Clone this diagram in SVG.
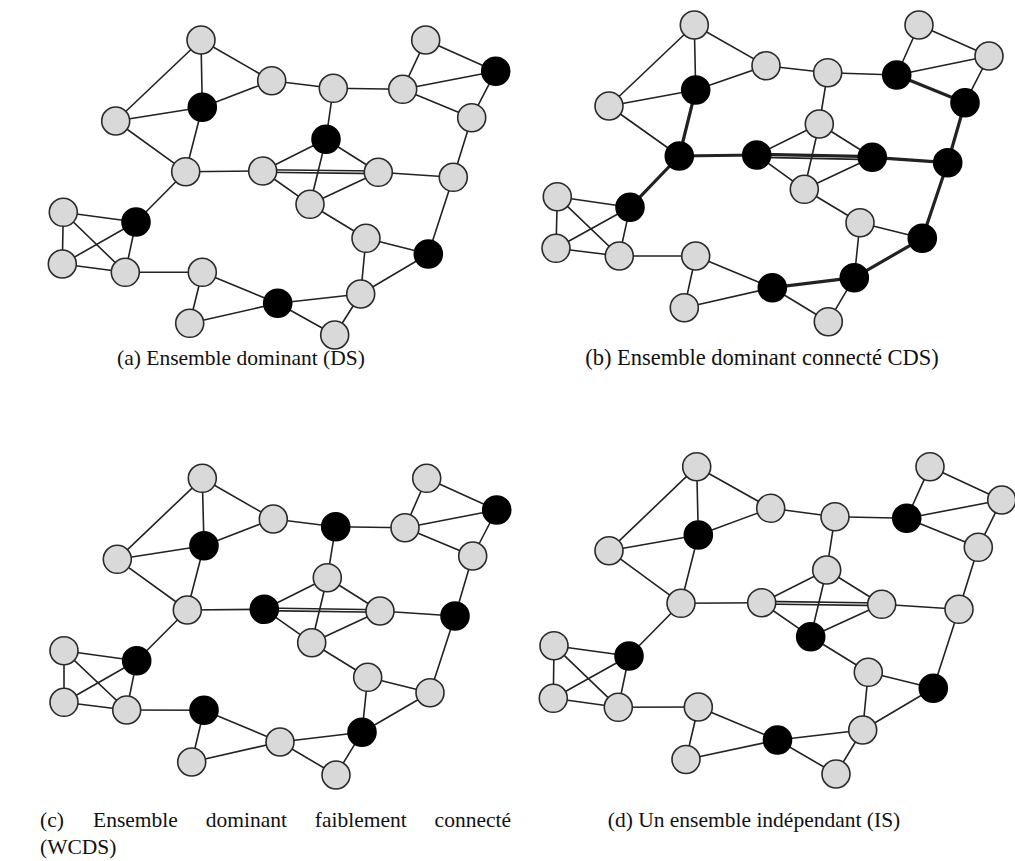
<svg xmlns="http://www.w3.org/2000/svg" width="1015" height="861" viewBox="0 0 1015 861">
<style>
.e line{stroke:#222;stroke-width:1.6;stroke-linecap:round}
.e line.t{stroke-width:3.2}
circle{stroke:#2a2a2a;stroke-width:1.6}
.g circle{fill:#d9d9d9}
.b circle{fill:#000;stroke:#000}
text{font-family:"Liberation Serif","Times New Roman",serif;font-size:21.5px;fill:#111}
</style>
<rect width="1015" height="861" fill="#fff"/>

<!-- Panel (a) -->
<g id="a-edges" class="e">
<line x1="201" y1="40" x2="271.7" y2="80.7"/>
<line x1="201" y1="40" x2="202.3" y2="107.3"/>
<line x1="201" y1="40" x2="115.7" y2="121"/>
<line x1="271.7" y1="80.7" x2="202.3" y2="107.3"/>
<line x1="202.3" y1="107.3" x2="115.7" y2="121"/>
<line x1="202.3" y1="107.3" x2="185.7" y2="171.7"/>
<line x1="115.7" y1="121" x2="185.7" y2="171.7"/>
<line x1="271.7" y1="80.7" x2="333.3" y2="88.3"/>
<line x1="333.3" y1="88.3" x2="326" y2="139.3"/>
<line x1="333.3" y1="88.3" x2="402.7" y2="89.3"/>
<line x1="185.7" y1="171.7" x2="262.7" y2="171"/>
<line x1="185.7" y1="171.7" x2="136" y2="222"/>
<line x1="326" y1="139.3" x2="262.7" y2="171"/>
<line x1="326" y1="139.3" x2="378.3" y2="172.3"/>
<line x1="326" y1="139.3" x2="310" y2="204.3"/>
<line x1="262.7" y1="169.7" x2="378.3" y2="171"/>
<line x1="262.7" y1="172.3" x2="378.3" y2="173.6"/>
<line x1="262.7" y1="171" x2="310" y2="204.3"/>
<line x1="378.3" y1="172.3" x2="310" y2="204.3"/>
<line x1="378.3" y1="172.3" x2="453.3" y2="177.3"/>
<line x1="425.7" y1="40" x2="402.7" y2="89.3"/>
<line x1="425.7" y1="40" x2="495.7" y2="71.3"/>
<line x1="495.7" y1="71.3" x2="402.7" y2="89.3"/>
<line x1="495.7" y1="71.3" x2="471.7" y2="117.7"/>
<line x1="402.7" y1="89.3" x2="471.7" y2="117.7"/>
<line x1="471.7" y1="117.7" x2="453.3" y2="177.3"/>
<line x1="453.3" y1="177.3" x2="428.3" y2="254"/>
<line x1="310" y1="204.3" x2="366" y2="238.3"/>
<line x1="428.3" y1="254" x2="366" y2="238.3"/>
<line x1="366" y1="238.3" x2="360.7" y2="294"/>
<line x1="428.3" y1="254" x2="360.7" y2="294"/>
<line x1="360.7" y1="294" x2="277.7" y2="303.3"/>
<line x1="360.7" y1="294" x2="334.7" y2="335"/>
<line x1="334.7" y1="335" x2="277.7" y2="303.3"/>
<line x1="277.7" y1="303.3" x2="202.3" y2="272.3"/>
<line x1="277.7" y1="303.3" x2="189.7" y2="323.3"/>
<line x1="202.3" y1="272.3" x2="189.7" y2="323.3"/>
<line x1="202.3" y1="272.3" x2="125.3" y2="272.3"/>
<line x1="125.3" y1="272.3" x2="136" y2="222"/>
<line x1="136" y1="222" x2="63.3" y2="212.3"/>
<line x1="136" y1="222" x2="62.3" y2="264"/>
<line x1="63.3" y1="212.3" x2="62.3" y2="264"/>
<line x1="125.3" y1="272.3" x2="63.3" y2="212.3"/>
<line x1="125.3" y1="272.3" x2="62.3" y2="264"/>
</g>
<g id="a-nodes">
<g id="a-n1" class="g"><circle cx="201" cy="40" r="14"/></g>
<g id="a-n2" class="g"><circle cx="271.7" cy="80.7" r="14"/></g>
<g id="a-n3" class="b"><circle cx="202.3" cy="107.3" r="14"/></g>
<g id="a-n4" class="g"><circle cx="115.7" cy="121" r="14"/></g>
<g id="a-n5" class="g"><circle cx="185.7" cy="171.7" r="14"/></g>
<g id="a-n6" class="g"><circle cx="333.3" cy="88.3" r="14"/></g>
<g id="a-n7" class="b"><circle cx="326" cy="139.3" r="14"/></g>
<g id="a-n8" class="g"><circle cx="262.7" cy="171" r="14"/></g>
<g id="a-n9" class="g"><circle cx="378.3" cy="172.3" r="14"/></g>
<g id="a-n10" class="g"><circle cx="310" cy="204.3" r="14"/></g>
<g id="a-n11" class="g"><circle cx="425.7" cy="40" r="14"/></g>
<g id="a-n12" class="b"><circle cx="495.7" cy="71.3" r="14"/></g>
<g id="a-n13" class="g"><circle cx="402.7" cy="89.3" r="14"/></g>
<g id="a-n14" class="g"><circle cx="471.7" cy="117.7" r="14"/></g>
<g id="a-n15" class="g"><circle cx="453.3" cy="177.3" r="14"/></g>
<g id="a-n16" class="b"><circle cx="428.3" cy="254" r="14"/></g>
<g id="a-n17" class="g"><circle cx="366" cy="238.3" r="14"/></g>
<g id="a-n18" class="g"><circle cx="360.7" cy="294" r="14"/></g>
<g id="a-n19" class="g"><circle cx="334.7" cy="335" r="14"/></g>
<g id="a-n20" class="b"><circle cx="277.7" cy="303.3" r="14"/></g>
<g id="a-n21" class="g"><circle cx="202.3" cy="272.3" r="14"/></g>
<g id="a-n22" class="g"><circle cx="189.7" cy="323.3" r="14"/></g>
<g id="a-n23" class="g"><circle cx="125.3" cy="272.3" r="14"/></g>
<g id="a-n24" class="b"><circle cx="136" cy="222" r="14"/></g>
<g id="a-n25" class="g"><circle cx="63.3" cy="212.3" r="14"/></g>
<g id="a-n26" class="g"><circle cx="62.3" cy="264" r="14"/></g>
</g>
<text id="cap-a" x="241" y="365" text-anchor="middle">(a) Ensemble dominant (DS)</text>

<!-- Panel (b) -->
<g id="b-edges" class="e">
<line x1="694.3" y1="25" x2="766" y2="65.7"/>
<line x1="694.3" y1="25" x2="695.7" y2="90"/>
<line x1="694.3" y1="25" x2="609" y2="106"/>
<line x1="766" y1="65.7" x2="695.7" y2="90"/>
<line x1="695.7" y1="90" x2="609" y2="106"/>
<line class="t" x1="695.7" y1="90" x2="679.3" y2="156"/>
<line x1="609" y1="106" x2="679.3" y2="156"/>
<line x1="766" y1="65.7" x2="827.7" y2="72.7"/>
<line x1="827.7" y1="72.7" x2="819.3" y2="124"/>
<line x1="827.7" y1="72.7" x2="896.7" y2="75"/>
<line class="t" x1="679.3" y1="156" x2="756.7" y2="155"/>
<line class="t" x1="679.3" y1="156" x2="630" y2="207.3"/>
<line x1="819.3" y1="124" x2="756.7" y2="155"/>
<line x1="819.3" y1="124" x2="872.3" y2="157.3"/>
<line x1="819.3" y1="124" x2="804.3" y2="189.3"/>
<line class="t" x1="756.7" y1="154.3" x2="872.3" y2="156.6"/>
<line x1="756.7" y1="157.3" x2="872.3" y2="159.6"/>
<line x1="756.7" y1="155" x2="804.3" y2="189.3"/>
<line x1="872.3" y1="157.3" x2="804.3" y2="189.3"/>
<line class="t" x1="872.3" y1="157.3" x2="947.7" y2="162.7"/>
<line x1="919" y1="25" x2="896.7" y2="75"/>
<line x1="919" y1="25" x2="989" y2="56"/>
<line x1="989" y1="56" x2="896.7" y2="75"/>
<line x1="989" y1="56" x2="965" y2="102.7"/>
<line class="t" x1="896.7" y1="75" x2="965" y2="102.7"/>
<line class="t" x1="965" y1="102.7" x2="947.7" y2="162.7"/>
<line class="t" x1="947.7" y1="162.7" x2="922.3" y2="238.3"/>
<line x1="804.3" y1="189.3" x2="860" y2="222.7"/>
<line x1="922.3" y1="238.3" x2="860" y2="222.7"/>
<line x1="860" y1="222.7" x2="854.3" y2="277.7"/>
<line class="t" x1="922.3" y1="238.3" x2="854.3" y2="277.7"/>
<line class="t" x1="854.3" y1="277.7" x2="772.3" y2="287.7"/>
<line x1="854.3" y1="277.7" x2="828.3" y2="321.7"/>
<line x1="828.3" y1="321.7" x2="772.3" y2="287.7"/>
<line x1="772.3" y1="287.7" x2="695.7" y2="256"/>
<line x1="772.3" y1="287.7" x2="684.3" y2="307.7"/>
<line x1="695.7" y1="256" x2="684.3" y2="307.7"/>
<line x1="695.7" y1="256" x2="619.3" y2="256"/>
<line x1="619.3" y1="256" x2="630" y2="207.3"/>
<line x1="630" y1="207.3" x2="557.3" y2="196.7"/>
<line x1="630" y1="207.3" x2="556" y2="248.3"/>
<line x1="557.3" y1="196.7" x2="556" y2="248.3"/>
<line x1="619.3" y1="256" x2="557.3" y2="196.7"/>
<line x1="619.3" y1="256" x2="556" y2="248.3"/>
</g>
<g id="b-nodes">
<g id="b-n1" class="g"><circle cx="694.3" cy="25" r="14"/></g>
<g id="b-n2" class="g"><circle cx="766" cy="65.7" r="14"/></g>
<g id="b-n3" class="b"><circle cx="695.7" cy="90" r="14"/></g>
<g id="b-n4" class="g"><circle cx="609" cy="106" r="14"/></g>
<g id="b-n5" class="b"><circle cx="679.3" cy="156" r="14"/></g>
<g id="b-n6" class="g"><circle cx="827.7" cy="72.7" r="14"/></g>
<g id="b-n7" class="g"><circle cx="819.3" cy="124" r="14"/></g>
<g id="b-n8" class="b"><circle cx="756.7" cy="155" r="14"/></g>
<g id="b-n9" class="b"><circle cx="872.3" cy="157.3" r="14"/></g>
<g id="b-n10" class="g"><circle cx="804.3" cy="189.3" r="14"/></g>
<g id="b-n11" class="g"><circle cx="919" cy="25" r="14"/></g>
<g id="b-n12" class="g"><circle cx="989" cy="56" r="14"/></g>
<g id="b-n13" class="b"><circle cx="896.7" cy="75" r="14"/></g>
<g id="b-n14" class="b"><circle cx="965" cy="102.7" r="14"/></g>
<g id="b-n15" class="b"><circle cx="947.7" cy="162.7" r="14"/></g>
<g id="b-n16" class="b"><circle cx="922.3" cy="238.3" r="14"/></g>
<g id="b-n17" class="g"><circle cx="860" cy="222.7" r="14"/></g>
<g id="b-n18" class="b"><circle cx="854.3" cy="277.7" r="14"/></g>
<g id="b-n19" class="g"><circle cx="828.3" cy="321.7" r="14"/></g>
<g id="b-n20" class="b"><circle cx="772.3" cy="287.7" r="14"/></g>
<g id="b-n21" class="g"><circle cx="695.7" cy="256" r="14"/></g>
<g id="b-n22" class="g"><circle cx="684.3" cy="307.7" r="14"/></g>
<g id="b-n23" class="g"><circle cx="619.3" cy="256" r="14"/></g>
<g id="b-n24" class="b"><circle cx="630" cy="207.3" r="14"/></g>
<g id="b-n25" class="g"><circle cx="557.3" cy="196.7" r="14"/></g>
<g id="b-n26" class="g"><circle cx="556" cy="248.3" r="14"/></g>
</g>
<text id="cap-b" x="762" y="365" text-anchor="middle" style="font-size:22.5px">(b) Ensemble dominant connecté CDS)</text>

<!-- Panel (c) -->
<g id="c-edges" class="e">
<line x1="202.3" y1="478.3" x2="273.3" y2="519"/>
<line x1="202.3" y1="478.3" x2="204" y2="545.7"/>
<line x1="202.3" y1="478.3" x2="117.3" y2="559.3"/>
<line x1="273.3" y1="519" x2="204" y2="545.7"/>
<line x1="204" y1="545.7" x2="117.3" y2="559.3"/>
<line x1="204" y1="545.7" x2="187.3" y2="610"/>
<line x1="117.3" y1="559.3" x2="187.3" y2="610"/>
<line x1="273.3" y1="519" x2="335.7" y2="526.7"/>
<line x1="335.7" y1="526.7" x2="327.3" y2="577.7"/>
<line x1="335.7" y1="526.7" x2="405" y2="527.7"/>
<line x1="187.3" y1="610" x2="264.3" y2="609.3"/>
<line x1="187.3" y1="610" x2="136.7" y2="660.7"/>
<line x1="327.3" y1="577.7" x2="264.3" y2="609.3"/>
<line x1="327.3" y1="577.7" x2="380" y2="611"/>
<line x1="327.3" y1="577.7" x2="311.7" y2="642.7"/>
<line x1="264.3" y1="608" x2="380" y2="609.7"/>
<line x1="264.3" y1="610.6" x2="380" y2="612.3"/>
<line x1="264.3" y1="609.3" x2="311.7" y2="642.7"/>
<line x1="380" y1="611" x2="311.7" y2="642.7"/>
<line x1="380" y1="611" x2="455" y2="616"/>
<line x1="426.7" y1="478.3" x2="405" y2="527.7"/>
<line x1="426.7" y1="478.3" x2="496.7" y2="510"/>
<line x1="496.7" y1="510" x2="405" y2="527.7"/>
<line x1="496.7" y1="510" x2="472.7" y2="556"/>
<line x1="405" y1="527.7" x2="472.7" y2="556"/>
<line x1="472.7" y1="556" x2="455" y2="616"/>
<line x1="455" y1="616" x2="430" y2="692.7"/>
<line x1="311.7" y1="642.7" x2="367.7" y2="677.3"/>
<line x1="430" y1="692.7" x2="367.7" y2="677.3"/>
<line x1="367.7" y1="677.3" x2="362" y2="732.3"/>
<line x1="430" y1="692.7" x2="362" y2="732.3"/>
<line x1="362" y1="732.3" x2="280" y2="742"/>
<line x1="362" y1="732.3" x2="336" y2="775"/>
<line x1="336" y1="775" x2="280" y2="742"/>
<line x1="280" y1="742" x2="204" y2="710.3"/>
<line x1="280" y1="742" x2="191.7" y2="762"/>
<line x1="204" y1="710.3" x2="191.7" y2="762"/>
<line x1="204" y1="710.3" x2="126.7" y2="710"/>
<line x1="126.7" y1="710" x2="136.7" y2="660.7"/>
<line x1="136.7" y1="660.7" x2="64" y2="650.7"/>
<line x1="136.7" y1="660.7" x2="64" y2="702.3"/>
<line x1="64" y1="650.7" x2="64" y2="702.3"/>
<line x1="126.7" y1="710" x2="64" y2="650.7"/>
<line x1="126.7" y1="710" x2="64" y2="702.3"/>
</g>
<g id="c-nodes">
<g id="c-n1" class="g"><circle cx="202.3" cy="478.3" r="14"/></g>
<g id="c-n2" class="g"><circle cx="273.3" cy="519" r="14"/></g>
<g id="c-n3" class="b"><circle cx="204" cy="545.7" r="14"/></g>
<g id="c-n4" class="g"><circle cx="117.3" cy="559.3" r="14"/></g>
<g id="c-n5" class="g"><circle cx="187.3" cy="610" r="14"/></g>
<g id="c-n6" class="b"><circle cx="335.7" cy="526.7" r="14"/></g>
<g id="c-n7" class="g"><circle cx="327.3" cy="577.7" r="14"/></g>
<g id="c-n8" class="b"><circle cx="264.3" cy="609.3" r="14"/></g>
<g id="c-n9" class="g"><circle cx="380" cy="611" r="14"/></g>
<g id="c-n10" class="g"><circle cx="311.7" cy="642.7" r="14"/></g>
<g id="c-n11" class="g"><circle cx="426.7" cy="478.3" r="14"/></g>
<g id="c-n12" class="b"><circle cx="496.7" cy="510" r="14"/></g>
<g id="c-n13" class="g"><circle cx="405" cy="527.7" r="14"/></g>
<g id="c-n14" class="g"><circle cx="472.7" cy="556" r="14"/></g>
<g id="c-n15" class="b"><circle cx="455" cy="616" r="14"/></g>
<g id="c-n16" class="g"><circle cx="430" cy="692.7" r="14"/></g>
<g id="c-n17" class="g"><circle cx="367.7" cy="677.3" r="14"/></g>
<g id="c-n18" class="b"><circle cx="362" cy="732.3" r="14"/></g>
<g id="c-n19" class="g"><circle cx="336" cy="775" r="14"/></g>
<g id="c-n20" class="g"><circle cx="280" cy="742" r="14"/></g>
<g id="c-n21" class="b"><circle cx="204" cy="710.3" r="14"/></g>
<g id="c-n22" class="g"><circle cx="191.7" cy="762" r="14"/></g>
<g id="c-n23" class="g"><circle cx="126.7" cy="710" r="14"/></g>
<g id="c-n24" class="b"><circle cx="136.7" cy="660.7" r="14"/></g>
<g id="c-n25" class="g"><circle cx="64" cy="650.7" r="14"/></g>
<g id="c-n26" class="g"><circle cx="64" cy="702.3" r="14"/></g>
</g>
<g id="cap-c">
<text x="40" y="827">(c)</text>
<text x="93" y="827">Ensemble</text>
<text x="205.7" y="827">dominant</text>
<text x="314.8" y="827">faiblement</text>
<text x="511" y="827" text-anchor="end">connecté</text>
<text x="40" y="854">(WCDS)</text>
</g>

<!-- Panel (d) -->
<g id="d-edges" class="e">
<line x1="696.7" y1="466.7" x2="770.7" y2="508.3"/>
<line x1="696.7" y1="466.7" x2="698.3" y2="535"/>
<line x1="696.7" y1="466.7" x2="609" y2="550.7"/>
<line x1="770.7" y1="508.3" x2="698.3" y2="535"/>
<line x1="698.3" y1="535" x2="609" y2="550.7"/>
<line x1="698.3" y1="535" x2="681" y2="603.3"/>
<line x1="609" y1="550.7" x2="681" y2="603.3"/>
<line x1="770.7" y1="508.3" x2="835" y2="516.7"/>
<line x1="835" y1="516.7" x2="826.7" y2="570"/>
<line x1="835" y1="516.7" x2="906.7" y2="518.3"/>
<line x1="681" y1="603.3" x2="761.7" y2="602.7"/>
<line x1="681" y1="603.3" x2="629" y2="656"/>
<line x1="826.7" y1="570" x2="761.7" y2="602.7"/>
<line x1="826.7" y1="570" x2="881.7" y2="604.3"/>
<line x1="826.7" y1="570" x2="810.7" y2="636.7"/>
<line x1="761.7" y1="601.4" x2="881.7" y2="603"/>
<line x1="761.7" y1="604" x2="881.7" y2="605.6"/>
<line x1="761.7" y1="602.7" x2="810.7" y2="636.7"/>
<line x1="881.7" y1="604.3" x2="810.7" y2="636.7"/>
<line x1="881.7" y1="604.3" x2="959" y2="609.3"/>
<line x1="930" y1="466.7" x2="906.7" y2="518.3"/>
<line x1="930" y1="466.7" x2="1001.7" y2="500"/>
<line x1="1001.7" y1="500" x2="906.7" y2="518.3"/>
<line x1="1001.7" y1="500" x2="978.3" y2="547.3"/>
<line x1="906.7" y1="518.3" x2="978.3" y2="547.3"/>
<line x1="978.3" y1="547.3" x2="959" y2="609.3"/>
<line x1="959" y1="609.3" x2="933.3" y2="688.3"/>
<line x1="810.7" y1="636.7" x2="868.3" y2="672.3"/>
<line x1="933.3" y1="688.3" x2="868.3" y2="672.3"/>
<line x1="868.3" y1="672.3" x2="862.7" y2="730"/>
<line x1="933.3" y1="688.3" x2="862.7" y2="730"/>
<line x1="862.7" y1="730" x2="777.5" y2="740"/>
<line x1="862.7" y1="730" x2="836" y2="774"/>
<line x1="836" y1="774" x2="777.5" y2="740"/>
<line x1="777.5" y1="740" x2="698.3" y2="707"/>
<line x1="777.5" y1="740" x2="686" y2="759.5"/>
<line x1="698.3" y1="707" x2="686" y2="759.5"/>
<line x1="698.3" y1="707" x2="618.3" y2="707.3"/>
<line x1="618.3" y1="707.3" x2="629" y2="656"/>
<line x1="629" y1="656" x2="554" y2="645.7"/>
<line x1="629" y1="656" x2="553.3" y2="698.3"/>
<line x1="554" y1="645.7" x2="553.3" y2="698.3"/>
<line x1="618.3" y1="707.3" x2="554" y2="645.7"/>
<line x1="618.3" y1="707.3" x2="553.3" y2="698.3"/>
</g>
<g id="d-nodes">
<g id="d-n1" class="g"><circle cx="696.7" cy="466.7" r="14"/></g>
<g id="d-n2" class="g"><circle cx="770.7" cy="508.3" r="14"/></g>
<g id="d-n3" class="b"><circle cx="698.3" cy="535" r="14"/></g>
<g id="d-n4" class="g"><circle cx="609" cy="550.7" r="14"/></g>
<g id="d-n5" class="g"><circle cx="681" cy="603.3" r="14"/></g>
<g id="d-n6" class="g"><circle cx="835" cy="516.7" r="14"/></g>
<g id="d-n7" class="g"><circle cx="826.7" cy="570" r="14"/></g>
<g id="d-n8" class="g"><circle cx="761.7" cy="602.7" r="14"/></g>
<g id="d-n9" class="g"><circle cx="881.7" cy="604.3" r="14"/></g>
<g id="d-n10" class="b"><circle cx="810.7" cy="636.7" r="14"/></g>
<g id="d-n11" class="g"><circle cx="930" cy="466.7" r="14"/></g>
<g id="d-n12" class="g"><circle cx="1001.7" cy="500" r="14"/></g>
<g id="d-n13" class="b"><circle cx="906.7" cy="518.3" r="14"/></g>
<g id="d-n14" class="g"><circle cx="978.3" cy="547.3" r="14"/></g>
<g id="d-n15" class="g"><circle cx="959" cy="609.3" r="14"/></g>
<g id="d-n16" class="b"><circle cx="933.3" cy="688.3" r="14"/></g>
<g id="d-n17" class="g"><circle cx="868.3" cy="672.3" r="14"/></g>
<g id="d-n18" class="g"><circle cx="862.7" cy="730" r="14"/></g>
<g id="d-n19" class="g"><circle cx="836" cy="774" r="14"/></g>
<g id="d-n20" class="b"><circle cx="777.5" cy="740" r="14"/></g>
<g id="d-n21" class="g"><circle cx="698.3" cy="707" r="14"/></g>
<g id="d-n22" class="g"><circle cx="686" cy="759.5" r="14"/></g>
<g id="d-n23" class="g"><circle cx="618.3" cy="707.3" r="14"/></g>
<g id="d-n24" class="b"><circle cx="629" cy="656" r="14"/></g>
<g id="d-n25" class="g"><circle cx="554" cy="645.7" r="14"/></g>
<g id="d-n26" class="g"><circle cx="553.3" cy="698.3" r="14"/></g>
</g>
<text id="cap-d" x="754" y="827" text-anchor="middle">(d) Un ensemble indépendant (IS)</text>
</svg>
